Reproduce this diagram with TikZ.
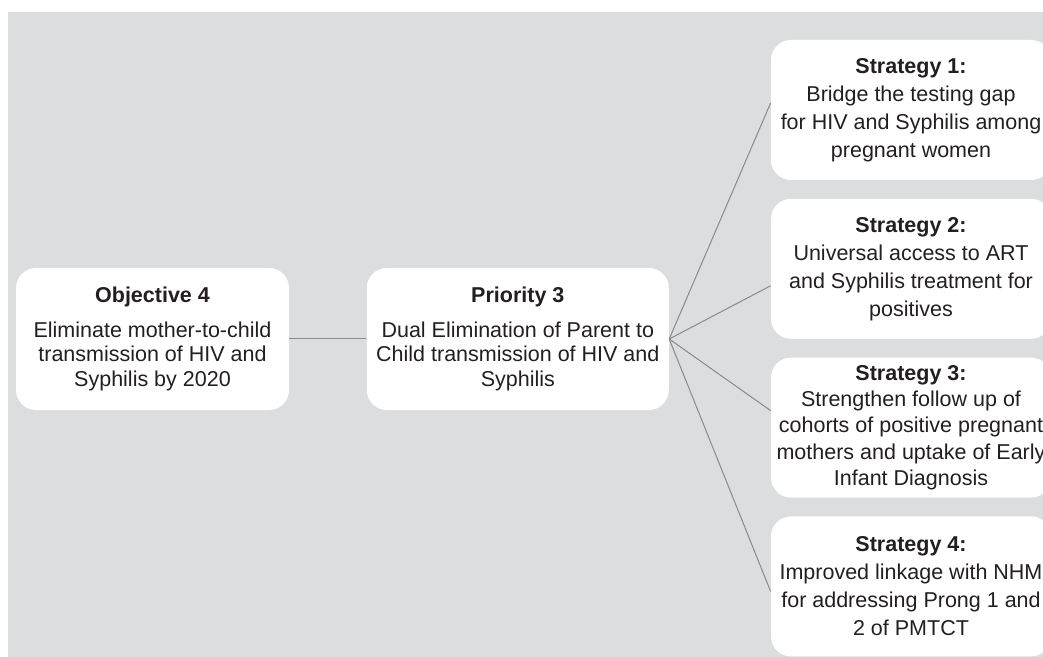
\documentclass[tikz,border=0pt]{standalone}
\usepackage{fontspec}
\setmainfont{Liberation Sans}
\usetikzlibrary{positioning}
\definecolor{bggray}{HTML}{DCDDDF}
\definecolor{linegray}{HTML}{8A8A8C}
\definecolor{inktext}{HTML}{231F20}

\begin{document}
\begin{tikzpicture}[
    x=0.5pt, y=-0.5pt,
    every node/.style={font=\fontsize{10.75}{12.25}\selectfont, text=inktext},
    box/.style={fill=white, rounded corners=10pt, align=center, minimum height=71pt, inner sep=0pt},
    stratbox/.style={box, minimum width=140pt, minimum height=70pt, font=\fontsize{10.75}{14}\selectfont},
    link/.style={draw=linegray, line width=0.5pt}
  ]
    \clip (0,0) rectangle (1043,657);
    \fill[bggray] (8,12) rectangle (1043,657);

    \node[box, minimum width=136.5pt] (obj) at (152.5,339) {\textbf{Objective 4}\\[5pt]Eliminate mother-to-child\\transmission of HIV and\\Syphilis by 2020};
    \node[box, minimum width=151pt, right=38.5pt of obj] (pri) {\textbf{Priority 3}\\[5pt]Dual Elimination of Parent to\\Child transmission of HIV and\\Syphilis};

    \node[stratbox] (s1) at (911,110) {\textbf{Strategy 1:}\\Bridge the testing gap\\for HIV and Syphilis among\\pregnant women};
    \node[stratbox, below=9pt of s1] (s2) {\textbf{Strategy 2:}\\Universal access to ART\\and Syphilis treatment for\\positives};
    \node[stratbox, below=9pt of s2, font=\fontsize{10.75}{13.2}\selectfont] (s3) {\textbf{Strategy 3:}\\Strengthen follow up of\\cohorts of positive pregnant\\mothers and uptake of Early\\Infant Diagnosis};
    \node[stratbox, below=9pt of s3] (s4) {\textbf{Strategy 4:}\\Improved linkage with NHM\\for addressing Prong 1 and\\2 of PMTCT};

    \draw[link] (obj.east) -- (pri.west);
    \draw[link] (pri.east) -- ([yshift=3.5pt]s1.west);
    \draw[link] (pri.east) -- ([yshift=-8.5pt]s2.west);
    \draw[link] (pri.east) -- ([yshift=8.5pt]s3.west);
    \draw[link] (pri.east) -- ([yshift=-2.5pt]s4.west);
  \end{tikzpicture}
\end{document}
